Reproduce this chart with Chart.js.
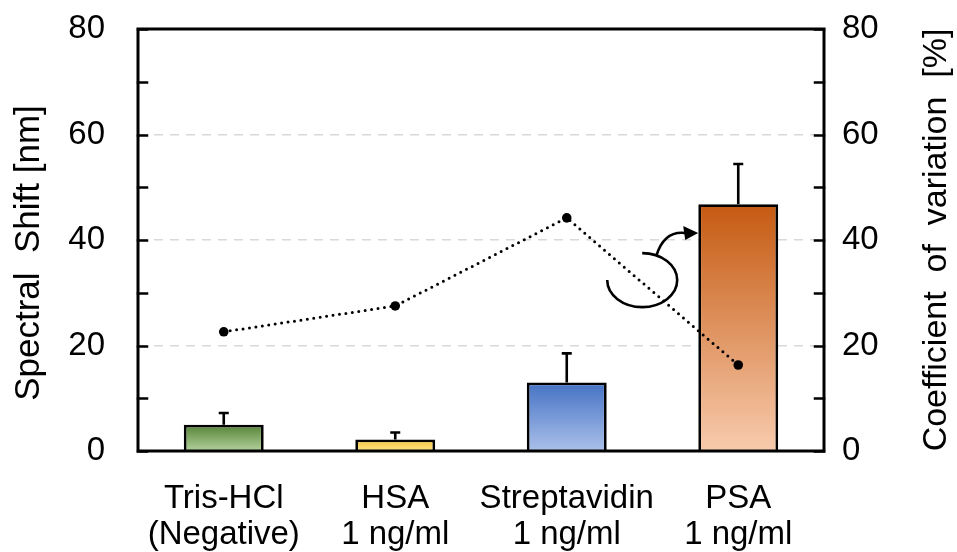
<!DOCTYPE html>
<html>
<head>
<meta charset="utf-8">
<script src="https://cdn.jsdelivr.net/npm/chart.js@4.4.1/dist/chart.umd.min.js"></script>
<style>
  html, body { margin: 0; padding: 0; background: #ffffff; }
  canvas { display: block; }
</style>
</head>
<body>
<canvas id="chart" width="957" height="552"></canvas>
<script>
// Samples on the x axis (two-line labels)
const categories = [
  ['Tris-HCl', '(Negative)'],
  ['HSA', '1 ng/ml'],
  ['Streptavidin', '1 ng/ml'],
  ['PSA', '1 ng/ml']
];
// Mean spectral shift [nm] and its upper error (SD)
const shiftValues = [5.0, 2.2, 13.0, 46.8];
const shiftErrors = [2.2, 1.3, 5.5, 7.6];
// Coefficient of variation [%] (right axis)
const cvValues = [22.6, 27.5, 44.2, 16.3];
// Axis ranges and labelled ticks
const axisMin = 0;
const axisMax = 80;
const labelledTicks = [0, 20, 40, 60, 80];
const minorStep = 10;
// Axis titles
const leftTitle = 'Spectral  Shift [nm]';
const rightTitle = 'Coefficient  of  variation  [%]';

// Bar gradient colours: [top, bottom]
const barGradients = [
  ['#548235', '#b3d19c'],
  ['#f2c230', '#ffe38a'],
  ['#4472c4', '#abc0ea'],
  ['#c55a11', '#f8cbad']
];

const FONT = '"Liberation Sans", Arial, Helvetica, sans-serif';

function barFill(ctx) {
  const chart = ctx.chart;
  if (!chart.chartArea) return barGradients[ctx.dataIndex][0];
  const y = chart.scales.y;
  const top = y.getPixelForValue(ctx.raw);
  const bottom = y.getPixelForValue(0);
  const g = chart.ctx.createLinearGradient(0, top, 0, bottom);
  g.addColorStop(0, barGradients[ctx.dataIndex][0]);
  g.addColorStop(1, barGradients[ctx.dataIndex][1]);
  return g;
}

// Upper error whiskers on the bars
const errorBars = {
  id: 'errorBars',
  afterDatasetDraw(chart, args) {
    if (args.index !== 0) return;
    const { ctx } = chart;
    const meta = chart.getDatasetMeta(0);
    const y = chart.scales.y;
    ctx.save();
    ctx.strokeStyle = '#000';
    ctx.lineWidth = 2.6;
    meta.data.forEach((bar, i) => {
      const yTop = y.getPixelForValue(shiftValues[i] + shiftErrors[i]);
      const yBar = y.getPixelForValue(shiftValues[i]);
      ctx.beginPath();
      ctx.moveTo(bar.x, yBar);
      ctx.lineTo(bar.x, yTop);
      ctx.moveTo(bar.x - 5, yTop);
      ctx.lineTo(bar.x + 5, yTop);
      ctx.stroke();
    });
    ctx.restore();
  }
};

// Frame, inward tick marks, axis titles and the curved arrow
const frame = {
  id: 'frame',
  afterDraw(chart) {
    const { ctx, chartArea: a, scales } = chart;
    const y = scales.y;
    ctx.save();
    ctx.strokeStyle = '#000';
    ctx.lineWidth = 2.5;
    ctx.lineCap = 'square';
    for (let v = axisMin; v <= axisMax; v += minorStep) {
      const py = Math.round(y.getPixelForValue(v)) + 0.5;
      ctx.beginPath();
      ctx.moveTo(a.left, py); ctx.lineTo(a.left + 9, py);
      ctx.moveTo(a.right, py); ctx.lineTo(a.right - 9, py);
      ctx.stroke();
    }
    ctx.lineCap = 'butt';
    ctx.lineWidth = 3;
    ctx.strokeRect(a.left, a.top, a.right - a.left, a.bottom - a.top);

    // axis titles, both reading bottom to top
    const midY = (a.top + a.bottom) / 2;
    ctx.fillStyle = '#000';
    ctx.textAlign = 'center';
    ctx.textBaseline = 'middle';
    ctx.font = '35px ' + FONT;
    ctx.save();
    ctx.translate(29, midY + 13);
    ctx.rotate(-Math.PI / 2);
    ctx.fillText(leftTitle, 0, 0);
    ctx.restore();
    ctx.font = '34px ' + FONT;
    ctx.save();
    ctx.translate(chart.width - 20, midY);
    ctx.rotate(-Math.PI / 2);
    ctx.fillText(rightTitle, 0, 0);
    ctx.restore();

    // curved arrow pointing from the CV line to the right-hand bar
    const x = scales.x;
    const x2 = x.getPixelForValue(2), x3 = x.getPixelForValue(3);
    const cx = x2 + 0.44 * (x3 - x2);
    const cy = y.getPixelForValue(32.4);
    const rx = 35, ry = 27;
    ctx.lineWidth = 2.6;
    ctx.beginPath();
    ctx.ellipse(cx, cy, rx, ry, 0, Math.PI, -Math.PI / 2, true);
    ctx.stroke();
    const sa = -1.15;
    const sx = cx + rx * Math.cos(sa), sy = cy + ry * Math.sin(sa);
    const tipX = cx + 56, tipY = cy - 47;
    ctx.beginPath();
    ctx.moveTo(sx, sy);
    ctx.quadraticCurveTo(cx + 22, cy - 50, tipX - 12, tipY);
    ctx.stroke();
    ctx.beginPath();
    ctx.moveTo(tipX, tipY);
    ctx.lineTo(tipX - 15, tipY - 7);
    ctx.lineTo(tipX - 13, tipY + 7);
    ctx.closePath();
    ctx.fill();
    ctx.restore();
  }
};

const gridColor = (c) => (c.tick && [20, 40, 60].includes(c.tick.value)) ? '#d9d9d9' : 'rgba(0,0,0,0)';
const noPad = (s) => { s.paddingTop = 0; s.paddingBottom = 0; };

new Chart(document.getElementById('chart'), {
  data: {
    labels: categories,
    datasets: [
      {
        type: 'bar',
        data: shiftValues,
        yAxisID: 'y',
        backgroundColor: barFill,
        borderColor: '#000',
        borderWidth: 2.8,
        borderSkipped: 'bottom',
        categoryPercentage: 1,
        barPercentage: 0.466,
        order: 2
      },
      {
        type: 'line',
        data: cvValues,
        yAxisID: 'y1',
        borderColor: '#000',
        borderWidth: 3,
        borderDash: [0, 6.5],
        borderCapStyle: 'round',
        pointRadius: 4.8,
        pointBackgroundColor: '#000',
        pointBorderWidth: 0,
        tension: 0,
        order: 1
      }
    ]
  },
  options: {
    responsive: false,
    animation: false,
    devicePixelRatio: 1,
    layout: { padding: { top: 29, left: 0, right: 0, bottom: 0 } },
    plugins: { legend: { display: false }, tooltip: { enabled: false } },
    scales: {
      x: {
        type: 'category',
        grid: { display: false, drawTicks: false },
        border: { display: false },
        ticks: {
          color: '#000',
          padding: 30,
          maxRotation: 0,
          autoSkip: false,
          font: { family: FONT, size: 33, lineHeight: 1.08 }
        },
        afterFit(s) { s.height = 101; s.paddingLeft = 0; s.paddingRight = 0; }
      },
      y: {
        position: 'left',
        min: axisMin, max: axisMax,
        grid: { color: gridColor, lineWidth: 1.5, drawTicks: false },
        border: { display: false, dash: [9, 7] },
        ticks: {
          stepSize: minorStep,
          color: '#000',
          padding: 33,
          font: { family: FONT, size: 33 },
          callback: (v) => labelledTicks.includes(v) ? String(v) : ''
        },
        afterFit(s) { s.width = 138; noPad(s); }
      },
      y1: {
        position: 'right',
        min: axisMin, max: axisMax,
        grid: { display: false, drawTicks: false },
        border: { display: false },
        ticks: {
          stepSize: minorStep,
          color: '#000',
          padding: 18,
          font: { family: FONT, size: 33 },
          callback: (v) => labelledTicks.includes(v) ? String(v) : ''
        },
        afterFit(s) { s.width = 133; noPad(s); }
      }
    }
  },
  plugins: [errorBars, frame]
});
</script>
</body>
</html>
